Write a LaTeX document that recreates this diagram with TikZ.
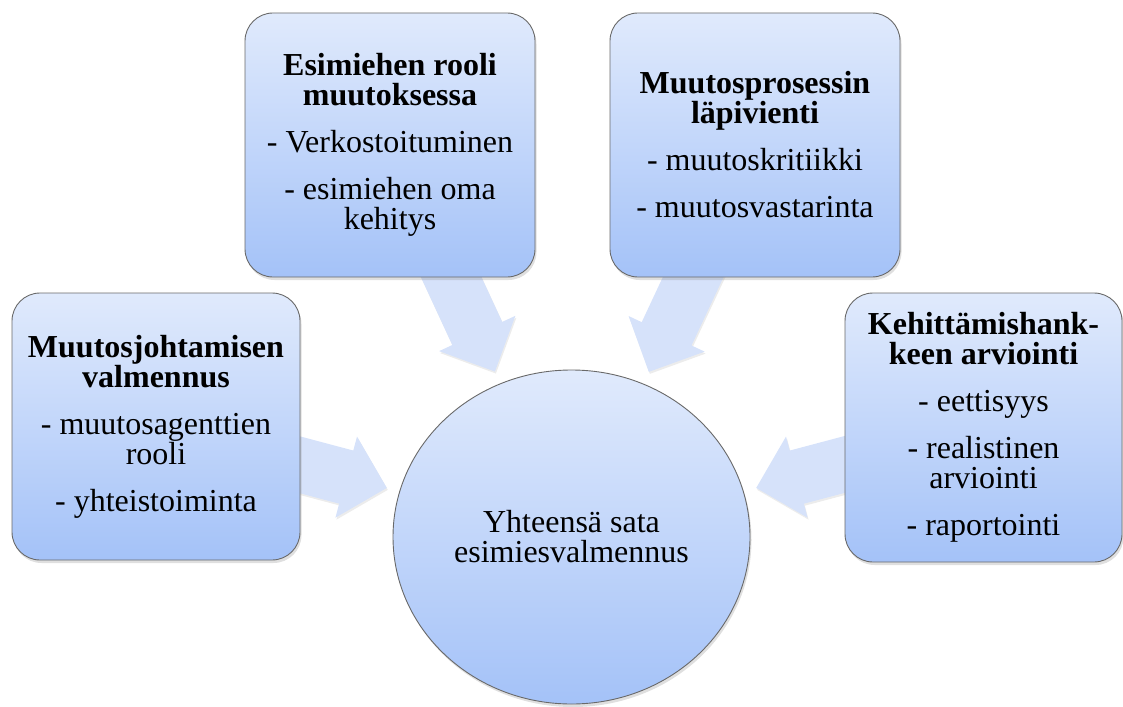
\documentclass[tikz,border=0pt]{standalone}
\usepackage{fontspec}
\setmainfont{Liberation Serif}
\usetikzlibrary{calc,shadows,shapes.geometric,backgrounds}

\definecolor{boxtop}{RGB}{224,234,252}
\definecolor{boxbot}{RGB}{164,194,248}
\definecolor{arrowblue}{RGB}{214,226,250}
\definecolor{edgegray}{RGB}{105,105,105}

\newcommand{\flowarrow}[2]{%
  \path (#1.center) -- (#2) coordinate[pos=1] (#1-e);
  \coordinate (#1-t) at ($(#1-e)!13pt!(#1.center)$);
  \coordinate (#1-h) at ($(#1-t)!42pt!(#1.center)$);
  \fill[arrowbody] ($(#1.center)!27.5pt!90:(#1-t)$)
    -- ($(#1-h)!27.5pt!90:(#1-t)$) -- ($(#1-h)!42pt!90:(#1-t)$)
    -- (#1-t)
    -- ($(#1-h)!42pt!-90:(#1-t)$) -- ($(#1-h)!27.5pt!-90:(#1-t)$)
    -- ($(#1.center)!27.5pt!-90:(#1-t)$) -- cycle;
}

\begin{document}
\begin{tikzpicture}[x=1pt,y=-1pt,
  font=\fontsize{32}{30}\selectfont,
  softshadow/.style={drop shadow={opacity=0.25,shadow xshift=1.5pt,shadow yshift=-3pt}},
  topicbox/.style={draw=edgegray,line width=0.9pt,rounded corners=28pt,
    top color=boxtop,bottom color=boxbot,align=center,inner sep=0pt,softshadow},
  hub/.style={ellipse,draw=edgegray,line width=0.9pt,top color=boxtop,bottom color=boxbot,
    minimum width=357pt,minimum height=334pt,align=center,inner sep=0pt,softshadow},
  arrowbody/.style={fill=arrowblue,drop shadow={opacity=0.15,shadow xshift=1pt,shadow yshift=-2pt}}]
  \useasboundingbox (0,0) rectangle (1123,706);

  \node[hub] (circ) at (571.5,537) {Yhteensä sata\\esimiesvalmennus};

  \node[topicbox,minimum width=288pt,minimum height=267pt] (lbox) at (156,426.5)
    {\textbf{Muutosjohtamisen}\\\textbf{valmennus}\\[17pt]- muutosagenttien\\rooli\\[17pt]- yhteistoiminta};
  \node[topicbox,minimum width=290pt,minimum height=264pt] (tlbox) at (390,145)
    {\textbf{Esimiehen rooli}\\\textbf{muutoksessa}\\[17pt]- Verkostoituminen\\[17pt]- esimiehen oma\\kehitys};
  \node[topicbox,minimum width=290pt,minimum height=264pt] (trbox) at (755,145)
    {\textbf{Muutosprosessin}\\\textbf{läpivienti}\\[17pt]- muutoskritiikki\\[17pt]- muutosvastarinta};
  \node[topicbox,minimum width=277pt,minimum height=269pt] (rbox) at (983.5,427.5)
    {\textbf{Kehittämishank-}\\\textbf{keen arviointi}\\[17pt]- eettisyys\\[17pt]- realistinen\\arviointi\\[17pt]- raportointi};

  \begin{scope}[on background layer]
    \flowarrow{lbox}{circ}
    \flowarrow{tlbox}{circ}
    \flowarrow{trbox}{circ}
    \flowarrow{rbox}{circ}
  \end{scope}
\end{tikzpicture}
\end{document}
